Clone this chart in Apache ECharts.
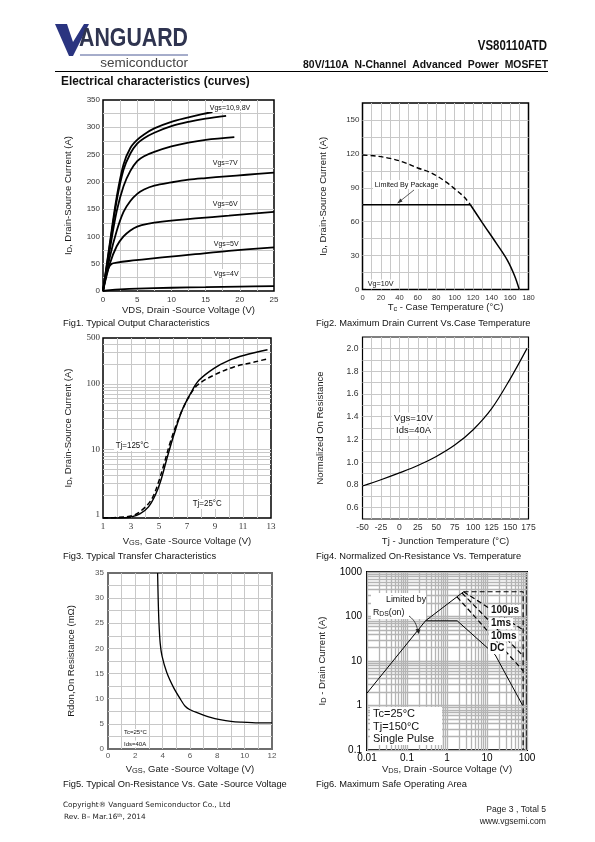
<!DOCTYPE html>
<html><head><meta charset="utf-8">
<script src="https://cdn.jsdelivr.net/npm/echarts@6/dist/echarts.min.js"></script>
<style>html,body{margin:0;padding:0;background:#fff}#c{width:595px;height:842px}</style>
</head><body><div id="c"></div>
<script>
// ---------------- DATA ----------------
// Fig1: Typical output characteristics, [VDS (V), ID (A)]
const fig1Vgs10 = [[0,0],[1,88],[2,172],[3,232],[4,262],[5,277],[6,287],[7.5,298],[10,310],[12.5,318],[14.5,324],[16,328]];
const fig1Vgs9  = [[0,0],[1,84],[2,165],[3,222],[4,252],[5,270],[6,280],[7.5,290],[10,302],[12.5,310],[15,316],[18,321]];
const fig1Vgs8  = [[0,0],[1,76],[2,146],[3,192],[4,220],[5,238],[6,247],[7.5,255],[10,265],[12.5,272],[15,277],[19.2,282]];
const fig1Vgs7  = [[0,0],[1,62],[2,110],[3,145],[4,165],[5,178],[6,186],[7.5,193],[10,199],[12.5,204],[15,207],[18,210],[21,213],[25,217]];
const fig1Vgs6  = [[0,0],[1,50],[2,82],[3,100],[4,111],[5,118],[6.5,123],[8.65,127],[13.5,133],[18.4,138],[25,145]];
const fig1Vgs5  = [[0,0],[0.4,25],[0.8,42],[1.3,50],[2,52],[3.75,55],[6,58],[8.65,61.5],[13.5,67.5],[18.4,73.5],[25,80]];
const fig1Vgs4  = [[0,0],[1,1.5],[2.5,3],[5,4.5],[10,6],[15,7],[20,8],[25,9]];
const fig1XTicks = [0,5,10,15,20,25];
const fig1YTicks = [0,50,100,150,200,250,300,350];

// Fig2: Max drain current vs case temperature, [Tc (degC), ID (A)]
const fig2SiliconLimit = [[0,119],[15,118],[30,116],[45,112.5],[60,107.5],[75,103],[90,95.5],[100,89],[110,82],[117,75]];
const fig2PackageLimit = [[0,75],[117,75]];
const fig2Derating     = [[117,75],[130,59],[145,41],[157,26],[165,12],[170,0]];

// Fig3: Transfer characteristics, [VGS (V), ID (A)]
const fig3Tj25  = [[1,0.9],[2,0.9],[3,0.93],[3.66,1.05],[4.25,1.33],[4.73,2.0],[5.1,3.2],[5.57,7.3],[6.05,16.4],[6.65,39.5],[7.25,71],[7.85,113],[8.9,171],[10,228],[11.1,272],[12.75,330]];
const fig3Tj125 = [[1,0.9],[2,0.92],[3.18,0.99],[3.9,1.25],[4.5,1.78],[4.97,3.2],[5.33,5.7],[5.81,13],[6.3,26],[6.65,39.5],[7.13,63],[7.73,95],[8.9,135],[10.35,181],[11.8,215],[12.75,240]];
const fig3YLabels = [1,10,100,500];

// Fig4: Normalized on-resistance vs temperature, [Tj (degC), R/R25]
const fig4Rn = [[-50,0.79],[-25,0.845],[0,0.905],[25,0.97],[50,1.05],[75,1.15],[100,1.285],[125,1.47],[150,1.73],[173,2.0]];

// Fig5: On-resistance vs VGS, [VGS (V), Rdson (mOhm)]
const fig5Rds = [[3.63,35],[3.67,30],[3.73,25],[3.82,21],[3.95,18.5],[4.3,15.2],[4.8,12.2],[5.3,9.9],[5.65,8.5],[6.0,7.8],[6.75,7.0],[7.5,6.3],[8.2,5.85],[9.0,5.5],[9.7,5.35],[11,5.2],[12,5.2]];

// Fig6: Safe operating area, [VDS (V), ID (A)]
const fig6RdsLimit = [[0.01,1.9],[0.29,80],[2.6,360]];
const fig6DC       = [[0.29,80],[1.8,80],[16,13.8],[78,1.0]];
const fig6Pulse    = [[2.6,360],[80,360],[80,0.1]];
const fig6Us100    = [[2.6,360],[80,50]];
const fig6Ms1      = [[2.37,338],[80,13]];
const fig6Ms10     = [[1.78,277],[80,6]];
const fig6XLabels = [0.01,0.1,1,10,100];
const fig6YLabels = [0.1,1,10,100,1000];

// ---------------- STYLE ----------------
const NARROW = '"Liberation Sans Narrow","Liberation Sans",Arial,sans-serif';
const SANS = '"Liberation Sans",Arial,sans-serif';
const SERIF = '"Liberation Serif","Times New Roman",serif';
const DEJA = '"DejaVu Sans",Verdana,sans-serif';
const GRIDC = '#c8c8c8';

function logGrid(lo, hi) {
  const out = [];
  for (let d = lo; d < hi * 0.999; d *= 10) for (let k = 1; k < 10; k++) out.push(+(d * k).toPrecision(6));
  out.push(hi);
  return out;
}
function every(n, fix) {
  return v => {
    const r = v / n;
    if (Math.abs(r - Math.round(r)) > 1e-6) return '';
    return fix != null ? v.toFixed(fix) : String(+v.toFixed(6));
  };
}
function nameStyle(size) {
  return {fontFamily: SANS, fontSize: size || 9.5, color: '#1a1a1a',
    rich: {s: {fontFamily: SANS, fontSize: (size || 9.5) * 0.78, color: '#1a1a1a', verticalAlign: 'bottom'}}};
}
function axis(o) {
  const base = {
    type: 'value', axisLine: {show: false}, axisTick: {show: false},
    splitLine: {show: true, showMinLine: false, showMaxLine: false, lineStyle: {color: GRIDC, width: 1}},
    nameLocation: 'middle', nameTextStyle: nameStyle()
  };
  const r = Object.assign(base, o);
  if (o.splitLine) r.splitLine = Object.assign({}, base.splitLine, o.splitLine);
  return r;
}
function lbl(fmt, font, size, margin, color, extra) {
  return Object.assign({formatter: fmt, fontFamily: font, fontSize: size, margin: margin, color: color || '#333'}, extra || {});
}
function line(gi, data, o) {
  return Object.assign({type: 'line', xAxisIndex: gi, yAxisIndex: gi, data: data, showSymbol: false, symbol: 'none',
    silent: true, z: 3, lineStyle: {color: '#000', width: 1.5}}, o || {});
}
const SM = {smooth: 0.35};
function dashed(w) { return {color: '#000', width: w || 1.3, type: [5, 3]}; }

// ---------------- GRAPHICS (texts) ----------------
function txt(x, y, text, font, o, sx) {
  const el = {type: 'text', x: x, y: y, z: 100, silent: true,
    style: Object.assign({text: text, font: font, fill: '#111', align: 'left', verticalAlign: 'middle'}, o || {})};
  if (sx) el.scaleX = sx;
  return el;
}
function box(x, y, w, h) {
  return {type: 'rect', z: 90, silent: true, shape: {x: x, y: y, width: w, height: h}, style: {fill: '#fff'}};
}
const g = [];
// header / logo
g.push({type: 'polygon', z: 100, shape: {points: [[55,24],[67,24],[73,42],[84,24],[89,24],[73,56],[69,56]]}, style: {fill: '#2a3480'}});
g.push(txt(79, 38.5, 'ANGUARD', 'bold 26px ' + SANS, {fill: '#2f3450'}, 0.82));
g.push({type: 'line', z: 100, shape: {x1: 80, y1: 55, x2: 188, y2: 55}, style: {stroke: '#4d5a96', lineWidth: 1}});
g.push(txt(188, 63, 'semiconductor', '13.5px ' + SANS, {fill: '#444', align: 'right'}));
g.push(txt(547, 46.5, 'VS80110ATD', 'bold 13.8px ' + SANS, {fill: '#111', align: 'right'}, 0.83));
g.push(txt(548, 65, '80V/110A  N-Channel  Advanced  Power  MOSFET', 'bold 10.5px ' + SANS, {fill: '#111', align: 'right'}, 0.99));
g.push({type: 'line', z: 100, shape: {x1: 55, y1: 71.5, x2: 548, y2: 71.5}, style: {stroke: '#000', lineWidth: 1}});
g.push(txt(61, 81.5, 'Electrical characteristics (curves)', 'bold 13px ' + SANS, {fill: '#111'}, 0.91));
// captions
const capF = '9.3px ' + SANS;
g.push(txt(63, 323, 'Fig1. Typical Output Characteristics', capF));
g.push(txt(316, 323, 'Fig2. Maximum Drain Current Vs.Case Temperature', capF));
g.push(txt(63, 556, 'Fig3. Typical Transfer Characteristics', capF));
g.push(txt(316, 556, 'Fig4. Normalized On-Resistance Vs. Temperature', capF));
g.push(txt(63, 784, 'Fig5. Typical On-Resistance Vs. Gate -Source Voltage', capF));
g.push(txt(316, 784, 'Fig6. Maximum Safe Operating Area', capF));
// fig1 annotations
const a1 = '8px ' + SANS;
const wb = {backgroundColor: '#fff', padding: [1, 2, 0, 2]};
g.push(txt(208, 107.5, 'Vgs=10,9,8V', a1, wb, 0.88));
g.push(txt(211, 163, 'Vgs=7V', a1, wb, 0.88));
g.push(txt(211, 204, 'Vgs=6V', a1, wb, 0.88));
g.push(txt(212, 244, 'Vgs=5V', a1, wb, 0.88));
g.push(txt(212, 273.5, 'Vgs=4V', a1, wb, 0.88));
// fig2 annotations
g.push(txt(373, 184.5, 'Limited By Package', a1, wb, 0.9));
g.push({type: 'line', z: 100, shape: {x1: 414, y1: 190, x2: 399, y2: 202}, style: {stroke: '#333', lineWidth: 0.8}});
g.push({type: 'polygon', z: 100, shape: {points: [[397,203.5],[400.5,198.5],[402.5,201.5]]}, style: {fill: '#333'}});
g.push(txt(366, 284, 'Vg=10V', a1, wb, 0.9));
// fig3 annotations
g.push(txt(114, 446, 'Tj=125°C', '9px ' + SANS, wb, 0.88));
g.push(txt(191, 504, 'Tj=25°C', '9px ' + SANS, wb, 0.88));
// fig4 annotations
g.push(txt(392, 418, 'Vgs=10V', '9.5px ' + SANS, wb));
g.push(txt(394, 430.5, 'Ids=40A', '9.5px ' + SANS, wb));
// fig5 annotations
g.push(txt(122, 732.5, 'Tc=25°C', '6px ' + SANS, wb));
g.push(txt(122, 744, 'Ids=40A', '6px ' + SANS, wb));
// fig6 annotations
g.push(box(371, 593, 55, 26));
g.push(txt(386, 599.5, 'Limited by', '8.8px ' + SANS));
g.push(txt(373, 613, 'R{s|DS}(on)', '8.8px ' + SANS, {rich: {s: {font: '6.8px ' + SANS, verticalAlign: 'bottom'}}}));
g.push({type: 'bezierCurve', z: 100, shape: {x1: 409, y1: 616, x2: 418, y2: 632, cpx1: 416, cpy1: 621, cpx2: 417, cpy2: 627}, style: {stroke: '#222', lineWidth: 0.8, fill: null}});
g.push({type: 'polygon', z: 100, shape: {points: [[418.5,634],[415.5,629],[420.5,629.5]]}, style: {fill: '#222'}});
const bf = 'bold 10px ' + SANS;
g.push(txt(489, 610.5, '100µs', bf, wb));
g.push(txt(489, 623.5, '1ms', bf, wb));
g.push(txt(489, 636, '10ms', bf, wb));
g.push(txt(488, 648.5, 'DC', bf, wb));
g.push(box(370, 707, 72, 38));
g.push(txt(373, 714, 'Tc=25°C', '11px ' + SANS));
g.push(txt(373, 726.5, 'Tj=150°C', '11px ' + SANS));
g.push(txt(373, 739, 'Single Pulse', '11px ' + SANS));
// footer
g.push(txt(63, 805.5, 'Copyright® Vanguard Semiconductor Co., Ltd', '7.3px ' + DEJA, {fill: '#222'}));
g.push(txt(64, 817, 'Rev. B– Mar.16{sup|th}, 2014', '7.3px ' + DEJA, {fill: '#222', rich: {sup: {font: '5px ' + DEJA, verticalAlign: 'top', fill: '#222'}}}));
g.push(txt(546, 810, 'Page 3 , Total 5', '8.6px ' + SANS, {fill: '#222', align: 'right'}));
g.push(txt(546, 822, 'www.vgsemi.com', '8.6px ' + SANS, {fill: '#222', align: 'right'}));

// ---------------- OPTION ----------------
const tk = '#333';
const option = {
  animation: false,
  backgroundColor: '#fff',
  grid: [
    {left: 103, top: 100, width: 171, height: 191, show: true, borderColor: '#000', borderWidth: 1.5, backgroundColor: '#fff'},
    {left: 362.5, top: 103, width: 166, height: 186.5, show: true, borderColor: '#000', borderWidth: 1.5, backgroundColor: '#fff'},
    {left: 103, top: 338, width: 168, height: 180, show: true, borderColor: '#000', borderWidth: 1.5, backgroundColor: '#fff'},
    {left: 362.5, top: 337, width: 166, height: 182, show: true, borderColor: '#000', borderWidth: 1.2, backgroundColor: '#fff'},
    {left: 108, top: 573, width: 164, height: 176, show: true, borderColor: '#6e6e6e', borderWidth: 2, backgroundColor: '#fff'},
    {left: 367, top: 572, width: 160, height: 178, show: true, borderColor: '#000', borderWidth: 2, backgroundColor: '#fff'}
  ],
  xAxis: [
    axis({gridIndex: 0, min: 0, max: 25, interval: 2.5,
      axisLabel: lbl(v => fig1XTicks.includes(v) ? String(v) : '', SANS, 8, 5, tk),
      name: 'VDS, Drain -Source Voltage (V)', nameGap: 13}),
    axis({gridIndex: 1, min: 0, max: 180, interval: 10,
      axisLabel: lbl(every(20), SANS, 7.6, 4, tk),
      name: 'T{s|c} - Case Temperature (°C)', nameGap: 13}),
    axis({gridIndex: 2, min: 1, max: 13, interval: 1,
      axisLabel: lbl(v => (Math.round(v) % 2 === 1 ? String(v) : ''), SERIF, 9, 4, tk),
      name: 'V{s|GS}, Gate -Source Voltage (V)', nameGap: 18}),
    axis({gridIndex: 3, min: -50, max: 175, interval: 12.5,
      axisLabel: lbl(every(25), SANS, 8.6, 4, tk),
      name: 'Tj - Junction Temperature (°C)', nameGap: 17}),
    axis({gridIndex: 4, min: 0, max: 12, interval: 1,
      axisLabel: lbl(every(2), SANS, 8, 3, '#555'),
      name: 'V{s|GS}, Gate -Source Voltage (V)', nameGap: 15}),
    axis({gridIndex: 5, type: 'log', logBase: 10, min: 0.01, max: 100,
      axisTick: {show: false, customValues: logGrid(0.01, 100)},
      splitLine: {lineStyle: {color: '#b4b4b4', width: 1.3}},
      axisLabel: lbl(v => String(v), SANS, 10, 3, '#000', {customValues: fig6XLabels}),
      name: 'V{s|DS}, Drain -Source Voltage (V)', nameGap: 14})
  ],
  yAxis: [
    axis({gridIndex: 0, min: 0, max: 350, interval: 25,
      axisLabel: lbl(v => fig1YTicks.includes(v) ? String(v) : '', SANS, 8, 3, tk),
      name: 'I{s|D}, Drain-Source Current (A)', nameGap: 30}),
    axis({gridIndex: 1, min: 0, max: 165, interval: 15,
      axisLabel: lbl(every(30), SANS, 8, 3, tk),
      name: 'I{s|D}, Drain-Source Current (A)', nameGap: 34}),
    axis({gridIndex: 2, type: 'log', logBase: 10, min: 0.9, max: 500,
      axisTick: {show: false, customValues: logGrid(1, 1000).filter(v => v <= 500)},
      axisLabel: lbl(v => String(v), SERIF, 9, 3, tk, {customValues: fig3YLabels}),
      name: 'I{s|D}, Drain-Source Current (A)', nameGap: 30}),
    axis({gridIndex: 3, min: 0.5, max: 2.1, interval: 0.1,
      axisLabel: lbl(v => { const k = Math.round(v * 10); return (k % 2 === 0 && k >= 6 && k <= 20) ? (k / 10).toFixed(1) : ''; }, SANS, 8.6, 4, tk),
      name: 'Normalized On Resistance', nameGap: 37}),
    axis({gridIndex: 4, min: 0, max: 35, interval: 2.5,
      axisLabel: lbl(every(5), SANS, 8, 4, '#555'),
      name: 'Rdon,On Resistance (mΩ)', nameGap: 32}),
    axis({gridIndex: 5, type: 'log', logBase: 10, min: 0.1, max: 1000,
      axisTick: {show: false, customValues: logGrid(0.1, 1000)},
      splitLine: {lineStyle: {color: '#b4b4b4', width: 1.3}},
      axisLabel: lbl(v => String(v), SANS, 10, 5, '#000', {customValues: fig6YLabels}),
      name: 'I{s|D} - Drain Current (A)', nameGap: 40})
  ],
  series: [
    line(0, fig1Vgs10, Object.assign({lineStyle: {color: '#000', width: 1.8}}, SM)),
    line(0, fig1Vgs9, Object.assign({lineStyle: {color: '#000', width: 1.8}}, SM)),
    line(0, fig1Vgs8, Object.assign({lineStyle: {color: '#000', width: 1.8}}, SM)),
    line(0, fig1Vgs7, Object.assign({lineStyle: {color: '#000', width: 1.8}}, SM)),
    line(0, fig1Vgs6, Object.assign({lineStyle: {color: '#000', width: 1.8}}, SM)),
    line(0, fig1Vgs5, Object.assign({lineStyle: {color: '#000', width: 1.8}}, SM)),
    line(0, fig1Vgs4, Object.assign({lineStyle: {color: '#000', width: 1.8}}, SM)),
    line(1, fig2SiliconLimit, Object.assign({lineStyle: dashed(1.4)}, SM)),
    line(1, fig2PackageLimit, {lineStyle: {color: '#000', width: 1.6}}),
    line(1, fig2Derating, Object.assign({lineStyle: {color: '#000', width: 1.5}}, SM)),
    line(2, fig3Tj25, Object.assign({lineStyle: {color: '#000', width: 1.5}}, SM)),
    line(2, fig3Tj125, Object.assign({lineStyle: dashed(1.5)}, SM)),
    line(3, fig4Rn, Object.assign({lineStyle: {color: '#000', width: 1.2}}, SM)),
    line(4, fig5Rds, {smooth: 0.25, lineStyle: {color: '#000', width: 1.3}}),
    line(5, fig6RdsLimit, {lineStyle: {color: '#000', width: 1}}),
    line(5, fig6DC, {lineStyle: {color: '#000', width: 1}}),
    line(5, fig6Pulse, {lineStyle: dashed(1.2)}),
    line(5, fig6Us100, {lineStyle: dashed(1.2)}),
    line(5, fig6Ms1, {lineStyle: dashed(1.2)}),
    line(5, fig6Ms10, {lineStyle: dashed(1.2)})
  ],
  graphic: {elements: g}
};
const chart = echarts.init(document.getElementById('c'), null, {renderer: 'canvas'});
chart.setOption(option);
</script>
</body></html>
